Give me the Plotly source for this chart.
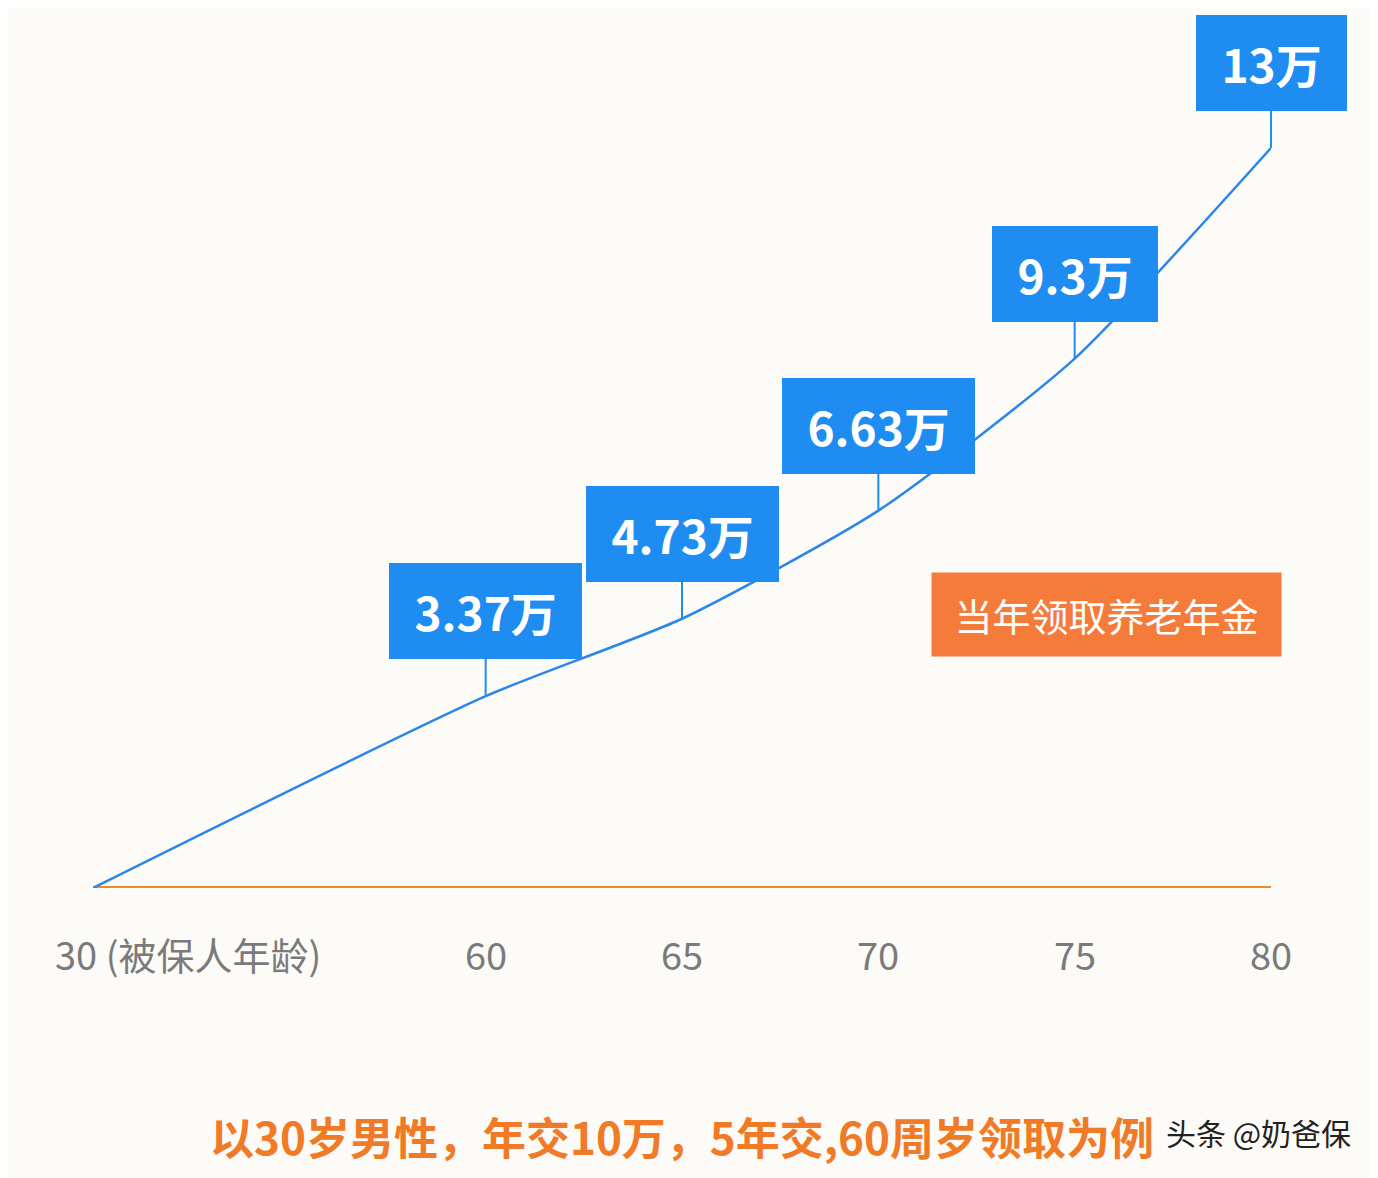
import plotly.graph_objects as go

ages = [30, 60, 65, 70, 75, 80]
axis_pos = [50, 60, 65, 70, 75, 80]  # 30 is drawn on a compressed (broken) axis
values = [0, 3.37, 4.73, 6.63, 9.3, 13]
labels = ["", "3.37万", "4.73万", "6.63万", "9.3万", "13万"]
tick_labels = ["30 (被保人年龄)", "60", "65", "70", "75", "80"]
title = "以30岁男性，年交10万，5年交,60周岁领取为例"
side_label = "当年领取养老年金"

fig = go.Figure()
fig.add_trace(go.Scatter(x=[axis_pos[0], axis_pos[-1]], y=[0, 0], mode="lines",
                         line=dict(color="#F08A2E", width=4), hoverinfo="skip"))
fig.add_trace(go.Scatter(x=axis_pos, y=values, mode="lines",
                         line=dict(color="#2B86E8", width=2.5, shape="spline", smoothing=0.6),
                         cliponaxis=False, hoverinfo="skip"))

ann = []
for xp, v, lab in zip(axis_pos[1:], values[1:], labels[1:]):
    ann.append(dict(x=xp, y=v, text="<b>&nbsp;" + lab + "&nbsp;</b>", showarrow=True,
                    ax=0, ay=-85, arrowcolor="#1E8CF0", arrowwidth=2, arrowhead=0,
                    font=dict(size=46, color="white", family="Noto Sans CJK SC"),
                    bgcolor="#1E8CF0", borderpad=14, bordercolor="#1E8CF0"))
for i, (xp, t) in enumerate(zip(axis_pos, tick_labels)):
    ann.append(dict(x=xp, y=0, yshift=-65, text=t, showarrow=False,
                    xanchor="left" if i == 0 else "center", xshift=-40 if i == 0 else 0,
                    font=dict(size=38, color="#7A7A7A", family="Noto Sans CJK SC")))
ann.append(dict(xref="paper", yref="paper", x=0.86, y=0.37, text="&nbsp;" + side_label + "&nbsp;",
                showarrow=False, bgcolor="#F57B3A", borderpad=14, xanchor="center", yanchor="middle",
                font=dict(size=38, color="white", family="Noto Sans CJK SC")))
ann.append(dict(xref="paper", yref="paper", x=0.5, y=-0.335, text="<b>" + title + "</b>",
                showarrow=False, xanchor="center", yanchor="middle",
                font=dict(size=44, color="#F07A26", family="Noto Sans CJK SC")))
ann.append(dict(xref="paper", yref="paper", x=1.07, y=-0.33, text="头条 @奶爸保",
                showarrow=False, xanchor="right", yanchor="middle",
                font=dict(size=30, color="#222", family="Noto Sans CJK SC")))

fig.update_layout(
    width=1378, height=1178, margin=dict(l=85, r=115, t=140, b=298),
    paper_bgcolor="#FDFBF8", plot_bgcolor="#FDFBF8", showlegend=False,
    xaxis=dict(range=[50, 80], visible=False),
    yaxis=dict(range=[0, 13], visible=False),
    annotations=ann,
)
fig.write_html("out.html")
